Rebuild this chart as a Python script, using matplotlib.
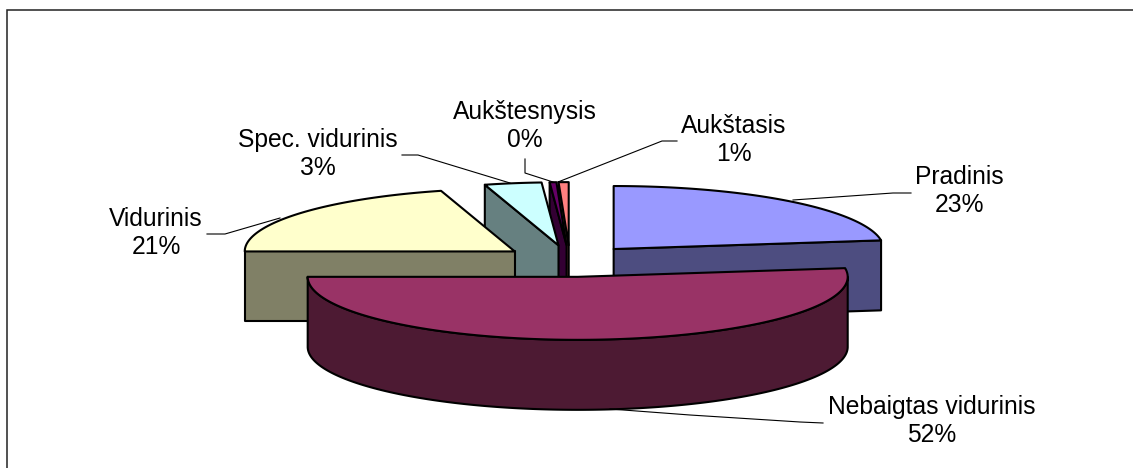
import numpy as np
import matplotlib
matplotlib.use("Agg")
import matplotlib.pyplot as plt
from matplotlib.patches import Polygon, Rectangle

names = ["Pradinis", "Nebaigtas vidurinis", "Vidurinis", "Spec. vidurinis", "Aukštesnysis", "Aukštasis"]
values = [22.8, 52.2, 20.6, 3.4, 0.4, 0.6]
top_colors = ["#9999FF", "#993366", "#FFFFCC", "#CCFFFF", "#660066", "#FF8080"]
side_colors = ["#4D4D80", "#4D1A33", "#808066", "#668080", "#330033", "#804040"]

# label centre in pixels, same order as names
label_x = [959.5, 932, 156, 317.5, 524.5, 734]
label_y = [191, 421, 233, 154, 126, 140]

# small sideways corrections to the exploded slices
nudge_x = [-1, 3, -1, 0, 0, 0]

# leader lines in pixels
leaders = [
    [(911, 193), (893, 193), (793, 200)],
    [(610, 409), (690, 415), (800, 422), (823, 423)],
    [(207, 234), (225, 234), (280, 218)],
    [(402, 155), (418, 155), (510, 183)],
    [(525, 159), (525, 173), (553, 182)],
    [(677, 141), (662, 141), (558, 182)],
]

CX, CY = 570, 261
RX, RY = 270, 63
EXPLODE = 68
DEPTH = 70
LW = 1.5


def rim(cx, cy, a, b):
    t = np.radians(np.linspace(a, b, max(int(abs(b - a)) * 2, 2)))
    return np.column_stack([cx + RX * np.sin(t), cy - RY * np.cos(t)])


def draw_slice(ax, a, b, top, side, nudge):
    mid = np.radians((a + b) / 2)
    cx = CX + EXPLODE * np.sin(mid) + nudge
    cy = CY - EXPLODE * RY / RX * np.cos(mid)
    apex = np.array([[cx, cy]])
    down = np.array([0, DEPTH])

    # cut faces: only the ones turned towards the viewer
    if np.sin(np.radians(a)) < 0:
        edge = np.vstack([apex, rim(cx, cy, a, a)[:1]])
        ax.add_patch(Polygon(np.vstack([edge, edge[::-1] + down]), fc=side, ec="black", lw=LW, joinstyle="round"))
    if np.sin(np.radians(b)) > 0.01:
        edge = np.vstack([apex, rim(cx, cy, b, b)[:1]])
        ax.add_patch(Polygon(np.vstack([edge, edge[::-1] + down]), fc=side, ec="black", lw=LW, joinstyle="round"))

    # outer wall, front half only
    lo, hi = max(a, 90), min(b, 270)
    if hi > lo:
        arc = rim(cx, cy, lo, hi)
        ax.add_patch(Polygon(np.vstack([arc, arc[::-1] + down]), fc=side, ec="black", lw=LW, joinstyle="round"))

    ax.add_patch(Polygon(np.vstack([apex, rim(cx, cy, a, b)]), fc=top, ec="black", lw=LW, joinstyle="round"))


fig = plt.figure(figsize=(11.33, 4.68), dpi=100)
ax = fig.add_axes([0, 0, 1, 1])
ax.set_xlim(0, 1133)
ax.set_ylim(468, 0)
ax.axis("off")

# frame runs off the right and bottom of the picture
ax.add_patch(Rectangle((6.5, 9.5), 1200, 500, fc="white", ec="#222222", lw=1.1))

edges = np.concatenate([[0], np.cumsum(values)]) * 3.6

# back slices first, the big front one last
for i in [5, 4, 3, 2, 0, 1]:
    draw_slice(ax, edges[i], edges[i + 1], top_colors[i], side_colors[i], nudge_x[i])

for pts in leaders:
    xs, ys = zip(*pts)
    ax.plot(xs, ys, color="black", lw=0.8)

for i in range(len(values)):
    ax.text(label_x[i], label_y[i], f"{names[i]}\n{round(values[i])}%", ha="center", va="center",
            fontsize=17.7, family="Liberation Sans", color="black")

fig.savefig("out.png", dpi=100)
